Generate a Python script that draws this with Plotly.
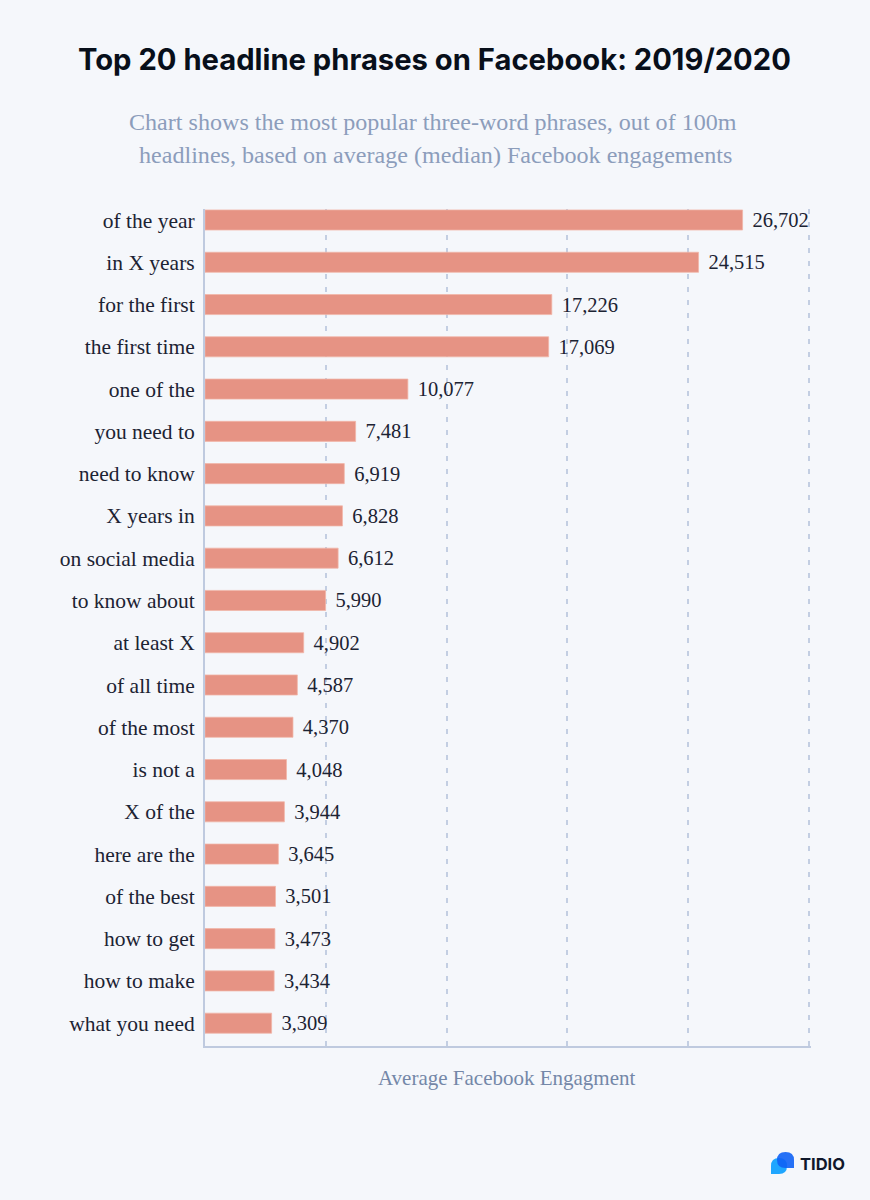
import plotly.graph_objects as go

phrases = ["of the year", "in X years", "for the first", "the first time", "one of the",
           "you need to", "need to know", "X years in", "on social media", "to know about",
           "at least X", "of all time", "of the most", "is not a", "X of the",
           "here are the", "of the best", "how to get", "how to make", "what you need"]
engagements = [26702, 24515, 17226, 17069, 10077, 7481, 6919, 6828, 6612, 5990,
               4902, 4587, 4370, 4048, 3944, 3645, 3501, 3473, 3434, 3309]
x_ticks = [0, 6000, 12000, 18000, 24000, 30000]

W, H = 870, 1200
L, R, T, B = 205, 811, 209, 1046
SERIF = "Liberation Serif, serif"
SANS = "Inter, Lato, sans-serif"
BG = "#F5F7FB"

def px(x):
    return (x - L) / (R - L)

def py(y):
    return (B - y) / (B - T)

def note(text, x, y, family, size, color):
    return dict(text=text, x=px(x), y=py(y), xref="paper", yref="paper", showarrow=False,
                xanchor="center", yanchor="middle", font=dict(family=family, size=size, color=color))

def bubble(x0, y0, x1, y1, corner, color, opacity=1.0):
    xm, ym = (x0 + x1) / 2, (y0 + y1) / 2
    if corner == "left":
        p = (f"M {px(x0)} {py(y1)} L {px(x0)} {py(ym)} Q {px(x0)} {py(y0)} {px(xm)} {py(y0)} "
             f"Q {px(x1)} {py(y0)} {px(x1)} {py(ym)} Q {px(x1)} {py(y1)} {px(xm)} {py(y1)} Z")
    else:
        p = (f"M {px(x1)} {py(y1)} L {px(x1)} {py(ym)} Q {px(x1)} {py(y0)} {px(xm)} {py(y0)} "
             f"Q {px(x0)} {py(y0)} {px(x0)} {py(ym)} Q {px(x0)} {py(y1)} {px(xm)} {py(y1)} Z")
    return dict(type="path", xref="paper", yref="paper", layer="above", line=dict(width=0),
                fillcolor=color, opacity=opacity, path=p)

fig = go.Figure(go.Bar(
    x=engagements, y=phrases, orientation="h",
    marker=dict(color="#E69384", line=dict(color="#F1B5A8", width=0.75)),
    texttemplate="\u00a0\u200a%{x:,}", textposition="outside", cliponaxis=False, constraintext="none",
    textfont=dict(family=SERIF, size=20.5, color="#1C2333"),
    hoverinfo="skip",
))

fig.update_layout(
    width=W, height=H, autosize=False,
    paper_bgcolor=BG, plot_bgcolor=BG, showlegend=False,
    margin=dict(l=L, r=W - R, t=T, b=H - B, pad=0),
    bargap=0.525,
    xaxis=dict(range=[0, 30100], tickmode="array", tickvals=x_ticks, showticklabels=False,
               ticks="", showgrid=True, gridcolor="#C3CEE2", griddash="5px,8px", gridwidth=1.5,
               zeroline=False, showline=True, linecolor="#BFCADF", linewidth=2),
    yaxis=dict(type="category", categoryorder="array", categoryarray=phrases,
               range=[19.54, -0.26], ticks="outside", ticklen=4, tickcolor="rgba(0,0,0,0)",
               tickfont=dict(family=SERIF, size=21.5, color="#1C2333"),
               showgrid=False, zeroline=False, showline=True, linecolor="#BFCADF", linewidth=2),
    annotations=[
        note("<b>Top 20 headline phrases on Facebook: 2019/2020</b>", 434, 60, SANS, 29.2, "#080F1A"),
        note("Chart shows the most popular three-word phrases, out of 100m", 433, 122, SERIF, 24.1, "#8C9DBB"),
        note("headlines, based on average (median) Facebook engagements", 435, 155, SERIF, 24.1, "#8C9DBB"),
        note("Average Facebook Engagment", 507, 1078, SERIF, 21, "#7487A8"),
        note("<b>TIDIO</b>", 822.5, 1163.5, SANS, 16.5, "#10182B"),
    ],
    shapes=[
        bubble(771, 1158, 787, 1174, "left", "#1FA6FF"),
        bubble(777, 1152, 794, 1168, "right", "#0F62F5", 0.9),
    ],
)

fig.write_html(
    "out.html",
    config=dict(displayModeBar=False),
    post_script="document.body.style.margin='0';document.body.style.background='#F5F7FB';",
)
